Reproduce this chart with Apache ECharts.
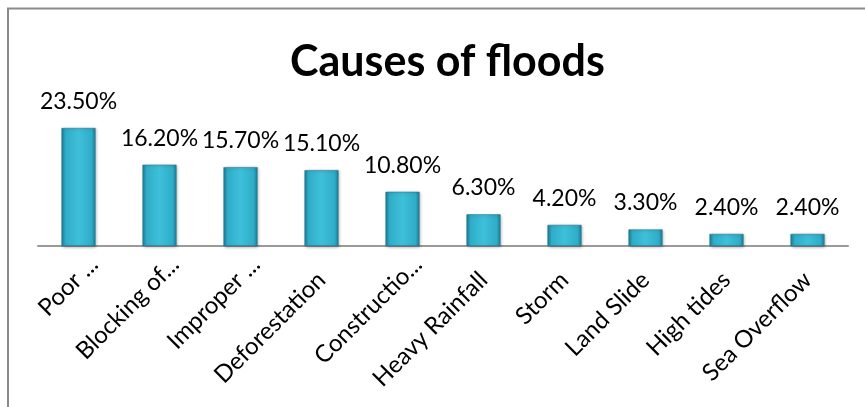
<!DOCTYPE html>
<html>
<head>
<meta charset="utf-8">
<script src="https://cdn.jsdelivr.net/npm/echarts@6/dist/echarts.min.js"></script>
<style>
html,body{margin:0;padding:0;background:#fff;}
#chart{width:865px;height:407px;}
</style>
</head>
<body>
<div id="chart"></div>
<script>
const titleText = 'Causes of floods';
const categories = ['Poor ...', 'Blocking of...', 'Improper ...', 'Deforestation', 'Constructio...', 'Heavy Rainfall', 'Storm', 'Land Slide', 'High tides', 'Sea Overflow'];
const truncated = [true, true, true, false, true, false, false, false, false, false];
const values = [23.5, 16.2, 15.7, 15.1, 10.8, 6.3, 4.2, 3.3, 2.4, 2.4];

const chart = echarts.init(document.getElementById('chart'), null, {renderer: 'canvas'});
const font = 'Lato, "Open Sans", sans-serif';

const barColor = new echarts.graphic.LinearGradient(0, 0, 1, 0, [
  {offset: 0, color: '#1d7f99'},
  {offset: 0.12, color: '#30adc8'},
  {offset: 0.5, color: '#3ec0da'},
  {offset: 0.88, color: '#30adc8'},
  {offset: 1, color: '#1d7f99'}
]);

chart.setOption({
  animation: false,
  backgroundColor: '#fff',
  title: {
    text: titleText,
    left: 285,
    top: 36,
    textStyle: {fontFamily: font, fontWeight: 'bold', fontSize: 43, color: '#000'}
  },
  grid: {left: 38, right: 17, top: 120.5, height: 125.5, containLabel: false},
  xAxis: {
    type: 'category',
    data: categories.map((c, i) => truncated[i]
      ? {value: c, textStyle: {padding: [0, -22, 0, 0]}}
      : c),
    axisLine: {show: true, lineStyle: {color: '#9a9a9a', width: 2}},
    axisTick: {show: false},
    axisLabel: {
      interval: 0, rotate: 45, margin: 30,
      fontFamily: font, fontSize: 24, color: '#000'
    }
  },
  yAxis: {
    type: 'value', min: 0, max: 25, show: false,
    splitLine: {show: false}
  },
  series: [{
    type: 'bar',
    data: values,
    barWidth: 34,
    itemStyle: {
      color: barColor,
      borderColor: '#1b6f86',
      borderWidth: 0.5,
      shadowColor: 'rgba(0,0,0,0.35)',
      shadowBlur: 3,
      shadowOffsetX: 1,
      shadowOffsetY: 1
    },
    label: {
      show: true, position: 'top', distance: 15,
      formatter: p => p.value.toFixed(2) + '%',
      fontFamily: font, fontSize: 23, color: '#000'
    }
  }],
  graphic: [{
    type: 'polyline',
    shape: {points: [[8, 407], [8, 8.5], [865, 8.5]]},
    style: {stroke: '#8a8a8a', lineWidth: 2, fill: null},
    silent: true
  }]
});
</script>
</body>
</html>
